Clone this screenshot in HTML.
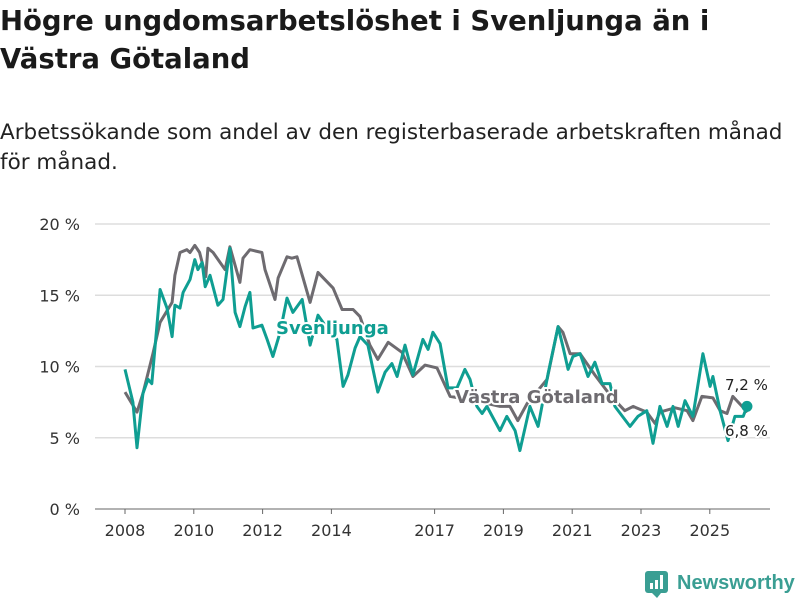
<!DOCTYPE html>
<html><head><meta charset="utf-8">
<style>
body{margin:0;background:#fff;width:800px;height:600px;overflow:hidden;font-family:"DejaVu Sans","Liberation Sans",sans-serif;color:#222;}
h1{position:absolute;left:0;top:2px;margin:0;font-size:27.5px;line-height:38px;font-weight:bold;color:#1a1a1a;white-space:nowrap;}
.sub{position:absolute;left:0;top:118px;margin:0;font-size:21.5px;line-height:30px;color:#222;white-space:nowrap;}
svg{position:absolute;left:0;top:0;}
</style></head><body>
<h1>Högre ungdomsarbetslöshet i Svenljunga än i<br>Västra Götaland</h1>
<p class="sub">Arbetssökande som andel av den registerbaserade arbetskraften månad<br>för månad.</p>
<svg id="chart" width="800" height="600"></svg>
<script>
const yTicks=[0,5,10,15,20];
const xTickYears=[2008,2010,2012,2014,2017,2019,2021,2023,2025];
const vgYears=[2008.00,2008.35,2008.52,2008.81,2009.02,2009.37,2009.45,2009.60,2009.80,2009.89,2010.03,2010.17,2010.35,2010.41,2010.56,2010.91,2011.05,2011.34,2011.43,2011.63,2011.98,2012.07,2012.36,2012.45,2012.71,2012.85,2013.00,2013.38,2013.61,2014.05,2014.31,2014.63,2014.83,2015.12,2015.35,2015.65,2016.05,2016.37,2016.72,2017.07,2017.45,2018.17,2018.90,2019.19,2019.42,2019.69,2020.27,2020.59,2020.73,2020.94,2021.23,2021.66,2022.10,2022.53,2022.77,2023.17,2023.41,2023.55,2023.99,2024.34,2024.51,2024.77,2025.09,2025.30,2025.50,2025.67,2025.94,2026.10];
const vgValues=[8.2,6.8,8.1,10.9,13.1,14.5,16.4,18.0,18.2,18.0,18.5,18.0,16.3,18.3,18.0,16.8,18.4,15.9,17.6,18.2,18.0,16.8,14.7,16.2,17.7,17.6,17.7,14.5,16.6,15.5,14.0,14.0,13.5,11.5,10.5,11.7,11.0,9.3,10.1,9.9,7.9,7.6,7.2,7.2,6.2,7.4,9.1,12.8,12.4,10.9,10.9,9.4,8.0,6.9,7.2,6.8,6.0,6.8,7.1,6.9,6.2,7.9,7.8,6.9,6.7,7.9,7.2,6.8];
const svYears=[2008.00,2008.23,2008.35,2008.52,2008.67,2008.78,2009.02,2009.22,2009.37,2009.45,2009.60,2009.69,2009.89,2010.03,2010.12,2010.24,2010.33,2010.47,2010.70,2010.85,2011.05,2011.20,2011.34,2011.49,2011.63,2011.72,2011.98,2012.13,2012.30,2012.51,2012.71,2012.88,2013.15,2013.38,2013.61,2013.90,2014.16,2014.34,2014.48,2014.69,2014.83,2015.06,2015.35,2015.56,2015.76,2015.91,2016.14,2016.37,2016.66,2016.81,2016.95,2017.16,2017.39,2017.65,2017.88,2018.03,2018.23,2018.38,2018.52,2018.90,2019.10,2019.34,2019.48,2019.77,2020.01,2020.30,2020.59,2020.73,2020.88,2021.02,2021.23,2021.46,2021.66,2021.87,2022.10,2022.24,2022.68,2022.91,2023.17,2023.35,2023.55,2023.76,2023.93,2024.08,2024.28,2024.51,2024.80,2025.01,2025.09,2025.30,2025.53,2025.73,2025.97,2026.08];
const svValues=[9.8,7.5,4.3,8.1,9.1,8.8,15.4,14.1,12.1,14.3,14.1,15.2,16.1,17.5,16.8,17.3,15.6,16.4,14.3,14.7,18.3,13.8,12.8,14.2,15.2,12.7,12.9,11.9,10.7,12.4,14.8,13.8,14.7,11.5,13.6,12.6,11.9,8.6,9.4,11.3,12.1,11.5,8.2,9.6,10.2,9.3,11.5,9.4,11.9,11.2,12.4,11.6,8.5,8.5,9.8,9.1,7.2,6.7,7.2,5.5,6.5,5.5,4.1,7.2,5.8,9.5,12.8,11.4,9.8,10.7,10.9,9.3,10.3,8.8,8.8,7.2,5.8,6.5,6.9,4.6,7.2,5.8,7.2,5.8,7.6,6.5,10.9,8.6,9.3,6.9,4.8,6.5,6.5,7.2];

const NS="http://www.w3.org/2000/svg";
const svg=document.getElementById('chart');
const xS=yr=>125+(yr-2008)*34.4;
const yS=v=>509-v*14.25;
function mk(tag,attrs,parent){const e=document.createElementNS(NS,tag);for(const k in attrs)e.setAttribute(k,attrs[k]);(parent||svg).appendChild(e);return e;}

yTicks.forEach(t=>{
  const g=mk('line',{x1:95,x2:770,y1:yS(t),y2:yS(t),stroke:t===0?'#666':'#ddd','stroke-width':t===0?1:1.5});
  
  
  const tx=mk('text',{x:80,y:yS(t)+6,'text-anchor':'end','font-size':16,fill:'#333'});
  tx.textContent=t+' %';
  
  
});
xTickYears.forEach(yr=>{
  const l=mk('line',{x1:xS(yr),x2:xS(yr),y1:509,y2:514,stroke:'#666'});
  
  
  const tx=mk('text',{x:xS(yr),y:536,'text-anchor':'middle','font-size':16,fill:'#333'});
  tx.textContent=yr;
  
  
});
function pathD(xs,vs){return xs.map((yr,i)=>(i?'L':'M')+xS(yr).toFixed(1)+' '+yS(vs[i]).toFixed(1)).join(' ');}
const vg=mk('path',{d:pathD(vgYears,vgValues),fill:'none',stroke:'#6e6b70','stroke-width':3,'stroke-linejoin':'round'});


const sv=mk('path',{d:pathD(svYears,svValues),fill:'none',stroke:'#0f9e92','stroke-width':3,'stroke-linejoin':'round'});


const dot=mk('circle',{cx:xS(svYears[svYears.length-1]),cy:yS(svValues[svValues.length-1]),r:5.5,fill:'#0f9e92'});



function label(txt,x,y,fill,name,weight,size,anchor){
  const t=mk('text',{x:x,y:y,fill:fill,'font-size':size,'font-weight':weight,'text-anchor':anchor||'start',stroke:'#fff','stroke-width':4,'paint-order':'stroke','stroke-linejoin':'round'});
  t.textContent=txt;
  
  
}
label('Svenljunga',276,334,'#0f9e92','svenljunga-label','bold',18);
label('Västra Götaland',455,403,'#6e6b70','vastra-gotaland-label','bold',18);
label('7,2 %',725,390,'#222','svenljunga-end-value','normal',15);
label('6,8 %',725,436,'#222','vastra-gotaland-end-value','normal',15);

const lg=mk('g',{});


mk('rect',{x:645,y:571,width:23,height:22,rx:3,fill:'#3a9e93'},lg);
mk('path',{d:'M652 593 L657 598 L661 593 Z',fill:'#3a9e93'},lg);
mk('rect',{x:650,y:583,width:3,height:6,fill:'#fff'},lg);
mk('rect',{x:655,y:580,width:3,height:9,fill:'#fff'},lg);
mk('rect',{x:660,y:575,width:3,height:14,fill:'#fff'},lg);
const lt=mk('text',{x:677,y:589,fill:'#3a9e93','font-size':20,'font-weight':'bold','font-family':'Liberation Sans, sans-serif'},lg);
lt.textContent='Newsworthy';
</script>
</body></html>
